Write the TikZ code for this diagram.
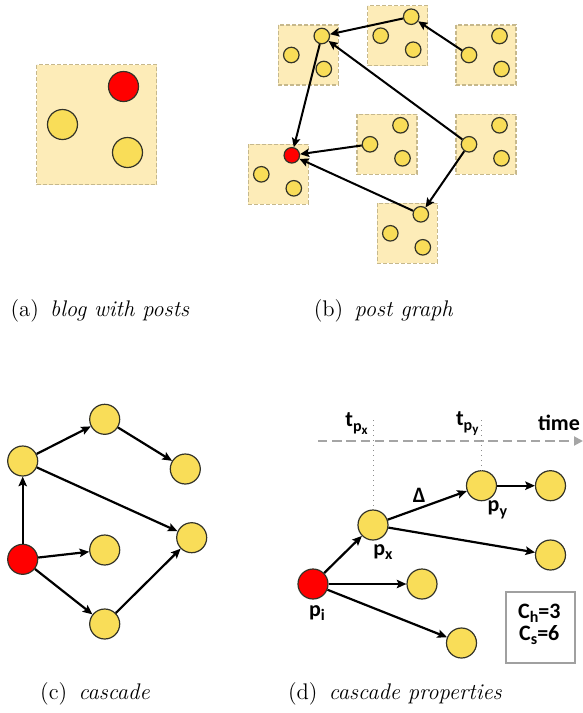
\documentclass[tikz,border=0pt]{standalone}
\usepackage{fontspec}
\newfontfamily\lblfont{Carlito}
\usetikzlibrary{arrows.meta}
\definecolor{boxfill}{RGB}{253,236,184}
\definecolor{boxedge}{RGB}{198,184,140}
\definecolor{postfill}{RGB}{249,221,88}
\definecolor{postedge}{RGB}{51,51,40}
\definecolor{timegray}{RGB}{165,165,165}
\definecolor{dotgray}{RGB}{140,140,140}
\definecolor{framegray}{RGB}{160,160,160}
\newcommand\lsub[1]{\raisebox{-0.45ex}{\fontsize{8}{9}\selectfont #1}}
\newcommand\lsubsub[1]{\raisebox{-0.35ex}{\fontsize{6.5}{7}\selectfont #1}}
\tikzset{
  post/.style={circle, draw=postedge, fill=postfill, line width=0.6pt, inner sep=0pt, minimum size=#1},
  post/.default=15pt,
  seed/.style={post=#1, fill=red},
  seed/.default=15pt,
  blogbox/.style={draw=boxedge, fill=boxfill, line width=0.75pt, dash pattern=on 2pt off 1pt},
  smalledge/.style={-{Stealth[length=4.6pt,width=4.2pt,inset=0.9pt]}, line width=1pt, black},
  edge/.style={-{Stealth[length=4.8pt,width=4.2pt,inset=0.9pt]}, line width=1.1pt, black},
  capt/.style={font=\fontsize{11.3}{13}\selectfont, inner sep=0pt},
  lbl/.style={font=\lblfont\fontsize{11}{13}\selectfont\bfseries, inner sep=0pt},
  timeline/.style={draw=timegray, line width=1pt, dash pattern=on 4.7pt off 2.4pt, -{Triangle[length=4.5pt,width=4.5pt]}},
  guide/.style={draw=dotgray, line width=0.5pt, dotted},
  frame/.style={draw=framegray, line width=0.9pt, inner sep=0pt, minimum width=34.5pt, minimum height=35.5pt}
}
\begin{document}
\begin{tikzpicture}[x=0.5pt,y=-0.5pt]
\useasboundingbox (0,0) rectangle (583,713);

% (a) blog with posts
\draw[blogbox] (36.5,64.5) rectangle ++(120,120);
\node[seed] (ared) at (123.5,86.5) {};
\node[post] (aleft) at (62.5,124.5) {};
\node[post] (aright) at (127.5,152.5) {};

% (b) post graph
\foreach \n/\x/\y/\c in {b1/278.3/25/postfill, b2/367.7/5.7/postfill, b3/456/25/postfill,
  b4/357/114.3/postfill, b5/456/114.3/postfill, b6/248.3/144.3/red, b7/377.3/203.3/postfill} {
  \draw[blogbox] (\x,\y) rectangle ++(60,60);
  \node[post=7.75pt, fill=\c] (\n a) at (\x+43.5,\y+11) {};
  \node[post=7.75pt] (\n b) at (\x+13,\y+30) {};
  \node[post=7.75pt] (\n c) at (\x+45.5,\y+44) {};
}
\draw[smalledge] (b2a) -- (b1a);
\draw[smalledge] (b3b) -- (b2a);
\draw[smalledge] (b5b) -- (b1a);
\draw[smalledge] (b1a) -- (b6a);
\draw[smalledge] (b4b) -- (b6a);
\draw[smalledge] (b7a) -- (b6a);
\draw[smalledge] (b5b) -- (b7a);

% captions top
\node[capt] (capa) at (100,311) {(a)\enspace\textit{blog with posts}};
\node[capt] (capb) at (383.5,311) {(b)\enspace\textit{post graph}};

% (c) cascade
\node[post] (c1) at (104.7,419.3) {};
\node[post] (c2) at (22.7,461) {};
\node[post] (c3) at (185.3,469) {};
\node[post] (c4) at (191.7,537.7) {};
\node[post] (c5) at (104.7,550) {};
\node[seed] (c6) at (22.7,559.3) {};
\node[post] (c7) at (104.7,624) {};
\draw[edge] (c2) -- (c1);
\draw[edge] (c1) -- (c3);
\draw[edge] (c6) -- (c2);
\draw[edge] (c2) -- (c4);
\draw[edge] (c6) -- (c5);
\draw[edge] (c6) -- (c7);
\draw[edge] (c7) -- (c4);

% (d) cascade properties
\coordinate (tstart) at (318,441);
\coordinate (tend) at (583,441);
\draw[timeline] (tstart) -- (tend);
\node[seed] (pi) at (313,584) {};
\node[post] (px) at (373,525) {};
\node[post] (py) at (481.5,485.7) {};
\node[post] (d1) at (550.5,485.7) {};
\node[post] (d2) at (550.5,555) {};
\node[post] (d3) at (422,584) {};
\node[post] (d4) at (461.5,643) {};
\coordinate (gx) at (373,420);
\coordinate (gy) at (481.5,420);
\draw[guide] (gx) -- (px.north);
\draw[guide] (gy) -- (py.north);
\draw[edge] (pi) -- (px);
\draw[edge] (pi) -- (d3);
\draw[edge] (pi) -- (d4);
\draw[edge] (px) -- (py);
\draw[edge] (px) -- (d2);
\draw[edge] (py) -- (d1);
\node[lbl] (ltpx) at (356.5,423.5) {t\lsub{p\lsubsub{x}}};
\node[lbl] (ltpy) at (467.3,423.5) {t\lsub{p\lsubsub{y}}};
\node[lbl] (ltime) at (559,423) {time};
\node[lbl] (ldelta) at (419.3,495.7) {Δ};
\node[lbl] (lpx) at (383,552) {p\lsub{x}};
\node[lbl] (lpy) at (497.4,510) {p\lsub{y}};
\node[lbl] (lpi) at (317,613) {p\lsub{i}};
\node[frame] (cbox) at (540.5,627.5) {};
\node[lbl] (lch) at (539.3,613.3) {C\lsub{h}=3};
\node[lbl] (lcs) at (539.3,635) {C\lsub{s}=6};

% captions bottom
\node[capt] (capc) at (95,694) {(c)\enspace\textit{cascade}};
\node[capt] (capd) at (395,694) {(d)\enspace\textit{cascade properties}};
\end{tikzpicture}
\end{document}
